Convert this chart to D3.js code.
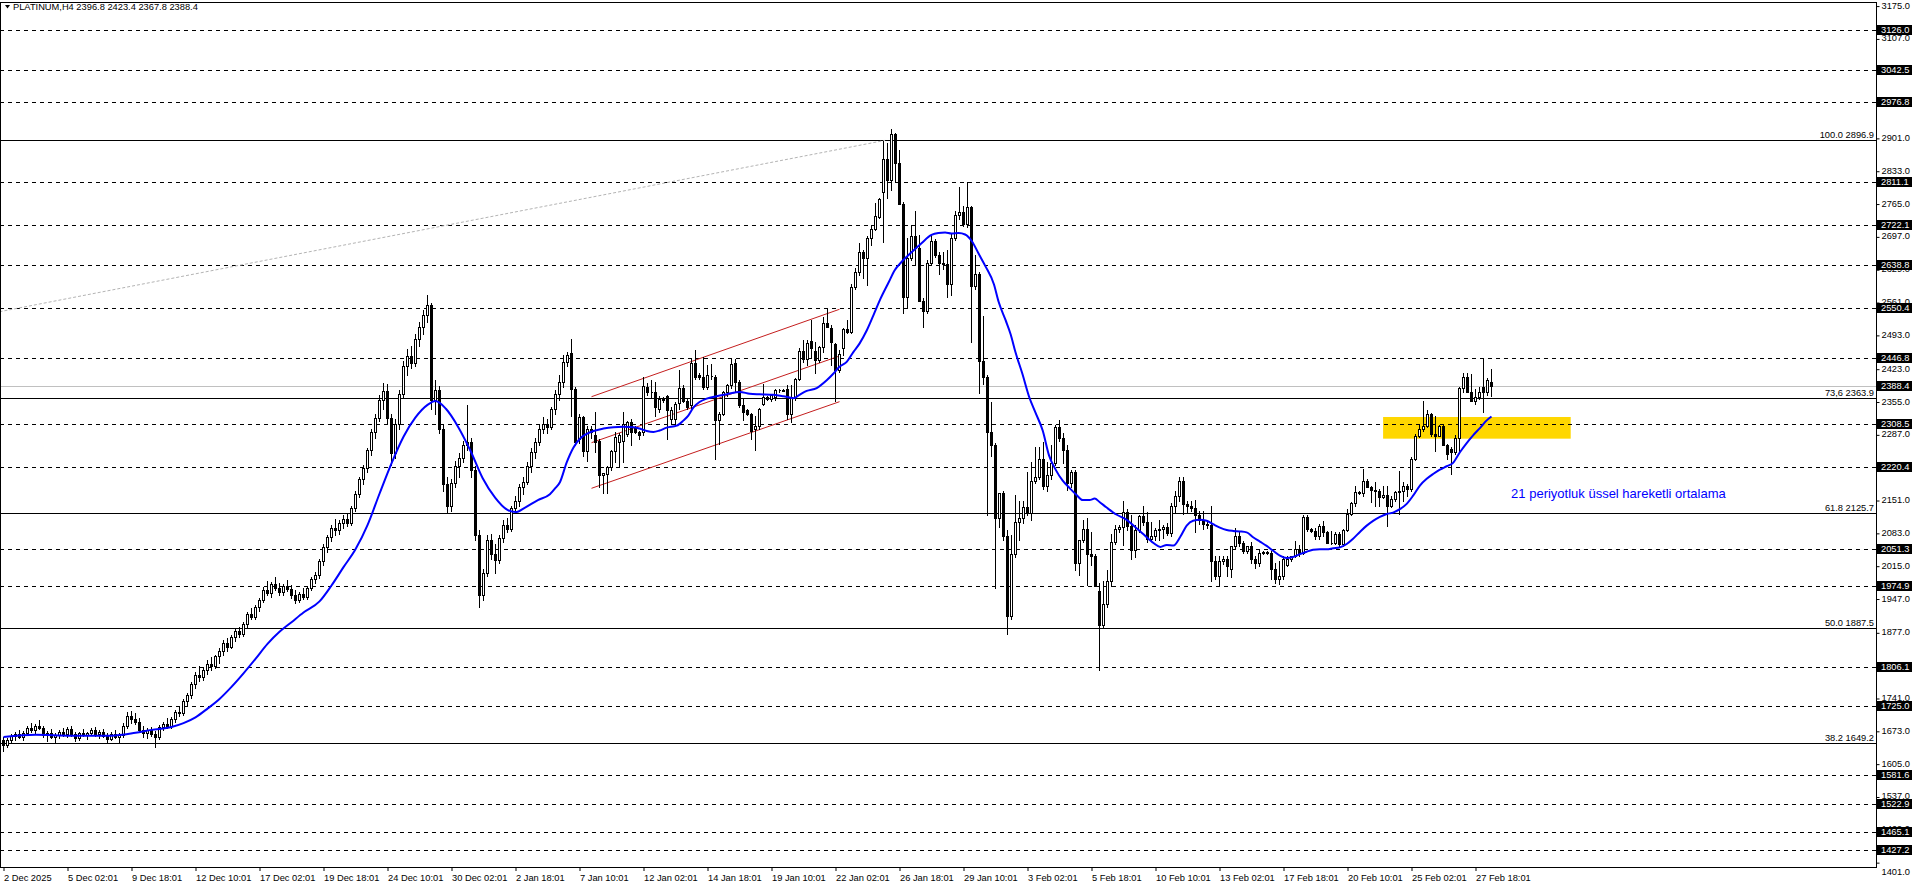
<!DOCTYPE html>
<html><head><meta charset="utf-8">
<script src="https://cdn.jsdelivr.net/npm/d3@7"></script>
<style>
html,body{margin:0;padding:0;background:#fff;overflow:hidden}
svg{display:block}
</style></head><body>
<svg id="chart" width="1916" height="888"></svg>
<script>
// ---------------- DATA ----------------
const symbol = "PLATINUM,H4";
const opens = [
1655,1645,1656,1663,1668,1662,1670,1680,1676,1685, 1680,1666,1670,1662,1666,1672,1668,1678,1667,1660,
1670,1665,1669,1676,1668,1672,1664,1658,1668,1662, 1666,1685,1705,1698,1692,1676,1670,1675,1668,1662,
1682,1688,1684,1698,1714,1710,1735,1748,1770,1790, 1785,1800,1812,1808,1828,1840,1856,1848,1868,1880,
1874,1895,1915,1910,1930,1945,1966,1960,1978,1970, 1962,1974,1968,1955,1945,1958,1952,1970,1988,1996,
2025,2054,2075,2095,2090,2105,2112,2104,2135,2165, 2195,2218,2255,2292,2322,2360,2378,2322,2250,2310,
2372,2430,2450,2435,2485,2510,2535,2555,2360,2380, 2300,2185,2140,2188,2222,2240,2265,2272,2215,2080,
1955,2000,2070,2040,2028,2074,2100,2092,2135,2150, 2180,2190,2222,2252,2272,2300,2310,2304,2340,2372,
2396,2438,2457,2383,2279,2324,2254,2300,2286,2275, 2203,2206,2220,2254,2272,2275,2289,2313,2303,2293,
2292,2386,2376,2376,2341,2362,2367,2320,2320,2354, 2384,2358,2348,2435,2410,2407,2386,2409,2407,2317,
2331,2376,2390,2436,2396,2348,2338,2331,2300,2306, 2351,2365,2362,2365,2379,2379,2382,2331,2365,2403,
2461,2445,2481,2461,2441,2469,2519,2509,2475,2421, 2466,2507,2500,2594,2625,2666,2653,2694,2713,2739,
2791,2858,2815,2910,2850,2766,2573,2654,2698,2673, 2565,2543,2643,2688,2660,2643,2640,2599,2695,2743,
2748,2724,2758,2595,2620,2440,2407,2292,2266,2114, 2166,2078,1911,2040,2107,2114,2137,2125,2192,2200,
2236,2181,2203,2229,2303,2280,2255,2188,2210,2022, 2070,2092,2040,2037,1963,1893,1937,1985,2066,2092,
2096,2128,2098,2048,2090,2118,2106,2072,2078,2089, 2092,2096,2083,2140,2160,2192,2144,2140,2136,2120,
2110,2102,2100,2026,1995,2026,2030,2010,2056,2078, 2064,2047,2056,2030,2022,2043,2044,2043,2009,1988,
1995,2018,2030,2036,2051,2043,2116,2092,2087,2078, 2099,2086,2064,2062,2081,2061,2090,2123,2145,2168,
2167,2192,2178,2173,2170,2158,2163,2140,2154,2168, 2171,2182,2174,2237,2284,2299,2305,2331,2289,2285,
2305,2266,2258,2251,2280,2384,2406,2376,2358,2365, 2386,2376,2396.8];
const highs = [
1662,1660,1668,1672,1676,1674,1684,1690,1688,1696, 1684,1674,1678,1670,1676,1680,1682,1684,1672,1672,
1678,1672,1680,1682,1676,1678,1670,1672,1676,1670, 1690,1712,1716,1710,1700,1684,1680,1682,1674,1686,
1692,1700,1702,1718,1726,1740,1752,1775,1796,1808, 1805,1820,1826,1832,1845,1862,1866,1872,1884,1890,
1900,1920,1928,1934,1950,1972,1985,1982,1992,1980, 1978,1986,1976,1965,1962,1970,1975,1992,2002,2030,
2060,2080,2100,2112,2110,2120,2125,2140,2170,2200, 2225,2260,2300,2330,2370,2395,2392,2330,2320,2380,
2440,2465,2470,2495,2520,2545,2576,2560,2400,2388, 2310,2200,2195,2232,2250,2275,2348,2280,2222,2090,
2010,2080,2082,2060,2080,2110,2115,2140,2160,2185, 2200,2230,2260,2280,2310,2325,2320,2345,2380,2410,
2452,2458,2486,2386,2330,2327,2305,2306,2334,2278, 2209,2222,2256,2292,2290,2334,2316,2319,2306,2295,
2407,2395,2400,2396,2368,2366,2370,2345,2355,2421, 2390,2362,2445,2462,2415,2448,2431,2433,2410,2334,
2378,2392,2445,2445,2400,2362,2340,2333,2327,2342, 2393,2368,2370,2382,2382,2381,2390,2390,2405,2466,
2483,2483,2525,2480,2470,2531,2549,2514,2478,2462, 2509,2525,2600,2632,2684,2670,2698,2722,2767,2777,
2896,2891,2920,2912,2876,2770,2695,2721,2750,2700, 2570,2650,2702,2693,2665,2665,2670,2706,2750,2800,
2760,2810,2760,2660,2625,2533,2410,2355,2270,2166, 2170,2090,2080,2162,2151,2151,2210,2230,2262,2262,
2273,2230,2266,2307,2318,2290,2266,2215,2215,2070, 2110,2115,2085,2040,1980,1985,2007,2081,2100,2100,
2150,2134,2122,2100,2122,2140,2128,2106,2094,2110, 2100,2105,2145,2170,2200,2199,2150,2150,2152,2130,
2130,2110,2140,2036,2036,2036,2036,2057,2095,2085, 2067,2057,2066,2036,2050,2047,2046,2047,2022,2026,
2036,2036,2036,2067,2058,2120,2120,2095,2095,2102, 2109,2088,2088,2085,2085,2092,2133,2147,2182,2171,
2216,2196,2182,2189,2175,2182,2182,2161,2171,2213, 2189,2185,2241,2289,2310,2358,2338,2333,2326,2308,
2310,2268,2262,2286,2386,2416,2416,2412,2382,2386, 2446,2405,2423.4];
const lows = [
1632,1640,1650,1655,1660,1656,1665,1672,1670,1678, 1662,1652,1660,1650,1660,1664,1662,1664,1652,1655,
1663,1658,1665,1664,1660,1662,1650,1654,1660,1648, 1662,1680,1690,1688,1672,1662,1660,1664,1640,1658,
1676,1680,1680,1692,1705,1706,1726,1742,1762,1778, 1780,1792,1800,1804,1815,1832,1840,1845,1860,1868,
1870,1890,1905,1906,1922,1940,1955,1952,1965,1955, 1956,1964,1950,1938,1940,1948,1948,1965,1980,1990,
2018,2045,2068,2080,2082,2095,2098,2100,2130,2158, 2185,2210,2245,2280,2315,2340,2310,2225,2240,2300,
2365,2410,2425,2430,2470,2495,2520,2340,2330,2290, 2170,2128,2130,2178,2200,2230,2255,2200,2070,1930,
1945,1995,2030,2000,2022,2065,2085,2088,2125,2140, 2165,2185,2210,2240,2265,2290,2290,2300,2330,2360,
2386,2430,2327,2265,2270,2244,2233,2280,2251,2178, 2166,2166,2215,2230,2223,2230,2285,2265,2290,2279,
2286,2370,2365,2327,2335,2355,2279,2310,2310,2341, 2355,2340,2341,2403,2403,2382,2382,2403,2237,2268,
2328,2368,2384,2375,2345,2317,2328,2279,2255,2300, 2348,2360,2358,2360,2376,2377,2320,2313,2360,2400,
2438,2431,2448,2416,2438,2459,2510,2431,2358,2417, 2452,2497,2497,2590,2618,2611,2597,2680,2711,2736,
2687,2777,2794,2810,2765,2540,2551,2650,2640,2565, 2510,2540,2640,2655,2621,2630,2573,2577,2690,2735,
2720,2718,2480,2590,2373,2392,2122,2244,1970,2096, 2070,1874,1905,2035,2070,2105,2122,2110,2188,2195,
2175,2170,2195,2225,2275,2229,2173,2180,2007,1996, 2065,1977,2018,1974,1800,1889,1930,1974,2060,2085,
2058,2090,2030,2033,2085,2100,2066,2068,2070,2070, 2074,2080,2078,2128,2150,2123,2125,2130,2085,2102,
2092,2095,1985,1988,1974,2020,1995,1993,2053,2057, 2043,2043,2022,2012,2016,2040,2040,1988,1981,1978,
1988,2016,2025,2035,2036,2040,2088,2085,2071,2071, 2078,2064,2060,2060,2057,2057,2088,2120,2140,2164,
2161,2178,2147,2140,2140,2157,2099,2137,2150,2123, 2150,2161,2170,2234,2282,2295,2303,2285,2254,2284,
2265,2237,2206,2248,2254,2376,2375,2358,2351,2362, 2334,2369,2367.8];
const closes = [
1645,1656,1663,1668,1662,1670,1680,1676,1685,1680, 1666,1670,1662,1666,1672,1668,1678,1667,1660,1670,
1665,1669,1676,1668,1672,1664,1658,1668,1662,1666, 1685,1705,1698,1692,1676,1670,1675,1668,1662,1682,
1688,1684,1698,1714,1710,1735,1748,1770,1790,1785, 1800,1812,1808,1828,1840,1856,1848,1868,1880,1874,
1895,1915,1910,1930,1945,1966,1960,1978,1970,1962, 1974,1968,1955,1945,1958,1952,1970,1988,1996,2025,
2054,2075,2095,2090,2105,2112,2104,2135,2165,2195, 2218,2255,2292,2322,2360,2378,2322,2250,2310,2372,
2430,2450,2435,2485,2510,2535,2555,2360,2380,2300, 2185,2140,2188,2222,2240,2265,2272,2215,2080,1955,
2000,2070,2040,2028,2074,2100,2092,2135,2150,2180, 2190,2222,2252,2272,2300,2310,2304,2340,2372,2396,
2438,2452,2383,2272,2324,2254,2300,2293,2272,2203, 2208,2220,2254,2282,2286,2310,2313,2293,2293,2286,
2388,2376,2375,2345,2362,2359,2338,2338,2351,2384, 2358,2345,2435,2407,2407,2386,2410,2408,2317,2331,
2376,2390,2434,2396,2348,2334,2331,2296,2306,2341, 2365,2362,2369,2380,2379,2378,2331,2365,2403,2461,
2445,2477,2466,2441,2469,2519,2511,2480,2421,2455, 2507,2500,2594,2625,2666,2653,2694,2713,2740,2775,
2858,2815,2910,2850,2766,2573,2654,2698,2673,2565, 2543,2643,2688,2660,2643,2640,2599,2695,2743,2748,
2724,2758,2595,2620,2440,2407,2292,2266,2114,2166, 2078,1911,2040,2107,2114,2137,2125,2192,2200,2236,
2181,2203,2229,2303,2280,2255,2188,2210,2022,2070, 2092,2040,2037,1974,1893,1937,1985,2066,2092,2096,
2128,2098,2048,2090,2118,2106,2072,2078,2089,2092, 2096,2083,2140,2160,2192,2144,2140,2136,2120,2110,
2102,2100,2026,1995,2026,2030,2016,2056,2078,2064, 2047,2056,2030,2022,2043,2044,2043,2009,1988,1995,
2030,2030,2036,2051,2043,2116,2092,2087,2078,2099, 2086,2064,2062,2081,2061,2090,2123,2145,2168,2167,
2192,2178,2173,2170,2158,2163,2140,2154,2168,2171, 2182,2174,2237,2284,2299,2305,2331,2289,2285,2305,
2266,2248,2251,2280,2384,2406,2376,2358,2365,2375, 2376,2400,2388.4];

// 21-period EMA: bar index and value
const emaBars = [0,8,17,27,33,37,42,45,48,51,54,57,60,63,66,69,72,75,79,82,85,88,91,94,97,100,103,106,108,110.6,113.7,116.8,119.8,122.9,125.9,128,130.5,133.6,136.6,138,139.1,140.8,142.5,144.1,145.8,147.5,150,152.5,155,157.5,159,160.8,162.5,164,165.8,168.3,170,171.2,172.5,174,175.8,178.3,180.8,184.1,186.6,189,192.5,195,197.5,199,200.8,203.3,205.8,207.5,209,210.8,212.5,214,215.8,217.5,219.2,221.3,222.8,224.5,227,229.5,232,233.7,235.4,237,238.8,240.4,242.1,243.8,245.5,247.6,248.8,250.5,251.8,253,254.7,256.4,258,259.8,261.4,263.1,264.8,266.5,268.2,269.8,271.5,272.8,274,275.7,278.2,280.8,282.4,285,287.5,289.2,290.8,292.5,294.2,295.8,297.4,299.1,300.8,302.4,304.1,305.8,307.4,309.1,310.8,312.4,314.1,315.8,317.4,319.1,320.8,322.4,324.1,325.8,327.4,329.1,330.8,332.4,334.1,335.8,337.4,339.1,340.8,342.4,344.1,345.8,347.4,349.1,350.8,352.4,354.1,355.8,357.4,359.1,360.8,362.4,364.1,365.8,367.4,369.1,370.8,372];
const emaValues = [1661,1666,1664,1664,1670,1676,1682,1690,1702,1720,1740,1765,1793,1823,1854,1879,1899,1919,1942,1975,2013,2050,2100,2165,2228,2283,2323,2349,2357,2341,2303,2253,2197,2157,2132,2127,2137,2152,2164,2177,2189,2230,2261,2279,2289,2295,2300,2303,2304,2303,2300,2295,2293,2296,2302,2306,2317,2327,2344,2355,2362,2367,2371,2376,2372,2371,2370,2367,2363,2370,2378,2384,2400,2414,2428,2438,2459,2476,2503,2535,2568,2603,2628,2645,2665,2684,2701,2705,2706,2704,2705,2702,2688,2662,2636,2599,2562,2525,2495,2458,2414,2366,2333,2296,2244,2214,2192,2177,2163,2152,2152,2155,2148,2137,2122,2111,2100,2081,2063,2055,2059,2058,2076,2099,2109,2111,2109,2102,2095,2090,2088,2087,2085,2075,2066,2057,2047,2037,2032,2034,2040,2045,2049,2050,2050,2052,2054,2061,2072,2086,2099,2109,2117,2123,2126,2133,2144,2161,2182,2196,2206,2215,2222,2229,2251,2270,2286,2301,2317,2325];

const timeLabels = ["2 Dec 2025","5 Dec 02:01","9 Dec 18:01","12 Dec 10:01","17 Dec 02:01","19 Dec 18:01","24 Dec 10:01","30 Dec 02:01","2 Jan 18:01","7 Jan 10:01","12 Jan 02:01","14 Jan 18:01","19 Jan 10:01","22 Jan 02:01","26 Jan 18:01","29 Jan 10:01","3 Feb 02:01","5 Feb 18:01","10 Feb 10:01","13 Feb 02:01","17 Feb 18:01","20 Feb 10:01","25 Feb 02:01","27 Feb 18:01"];
const barsPerTimeLabel = 16;
const priceTicks = [3175,3107,3039,2971,2901,2833,2765,2697,2629,2561,2493,2423,2355,2287,2219,2151,2083,2015,1947,1877,1809,1741,1673,1605,1537,1469,1401];
const levelPrices = [3126.0,3042.5,2976.8,2811.1,2722.1,2638.8,2550.4,2446.8,2308.5,2220.4,2051.3,1974.9,1806.1,1725.0,1581.6,1522.9,1465.1,1427.2];
const fibRatios = ["100.0","73,6","61.8","50.0","38.2"];
const fibPrices = [2896.9,2363.9,2125.7,1887.5,1649.2];
const fibTrendBars = [-1, 220.4];
const fibTrendPrices = [2542, 2896.9];
const channelBars = [147, 209];
const channelUpper = [2366.0, 2547.1];
const channelMiddle = [2270.8, 2450.3];
const channelLower = [2176.3, 2355.7];
const zoneBars = [344.9, 391.8];
const zonePrices = [2279.1, 2324.0];
const priceDomain = [1392, 3181.4];
const annotationText = "21 periyotluk üssel hareketli ortalama";
const annotationBar = 376.9, annotationPrice = 2165;

// ---------------- DRAW ----------------
const FONT = "'Liberation Sans', Arial, sans-serif";
const svg = d3.select("#chart");
const X0 = 0, X1 = 1876, Y0 = 3, Y1 = 867;
const n = closes.length;
const x = d3.scaleLinear().domain([0, n - 1]).range([3.5, 3.5 + 4 * (n - 1)]);
const y = d3.scaleLinear().domain(priceDomain).range([Y1, Y0]);
const py = p => Math.round(y(p)) + 0.5;

svg.append("rect").attr("width", 1916).attr("height", 888).attr("fill", "#fff");
svg.append("defs").append("clipPath").attr("id", "clip")
  .append("rect").attr("x", X0).attr("y", Y0).attr("width", X1 - X0).attr("height", Y1 - Y0);
const plot = svg.append("g").attr("clip-path", "url(#clip)");

// yellow zone
plot.append("rect")
  .attr("x", x(zoneBars[0])).attr("width", x(zoneBars[1]) - x(zoneBars[0]))
  .attr("y", y(zonePrices[1])).attr("height", y(zonePrices[0]) - y(zonePrices[1]))
  .attr("fill", "#ffd700");

// dashed horizontal levels
plot.selectAll("line.lvl").data(levelPrices).join("line").attr("class", "lvl")
  .attr("x1", X0).attr("x2", X1).attr("y1", py).attr("y2", py)
  .attr("stroke", "#000").attr("stroke-dasharray", "4,4").attr("shape-rendering", "crispEdges");

// last price line
plot.append("line").attr("x1", X0).attr("x2", X1)
  .attr("y1", py(closes[n - 1])).attr("y2", py(closes[n - 1]))
  .attr("stroke", "#c0c0c0").attr("shape-rendering", "crispEdges");

// fibonacci levels
plot.selectAll("line.fib").data(fibPrices).join("line").attr("class", "fib")
  .attr("x1", X0).attr("x2", X1).attr("y1", py).attr("y2", py)
  .attr("stroke", "#000").attr("shape-rendering", "crispEdges");

// fibonacci trend line (dotted)
plot.append("line")
  .attr("x1", x(fibTrendBars[0])).attr("y1", y(fibTrendPrices[0]))
  .attr("x2", x(fibTrendBars[1])).attr("y2", y(fibTrendPrices[1]))
  .attr("stroke", "#b4b4b4").attr("stroke-dasharray", "3,2");

// red channel
[channelUpper, channelMiddle, channelLower].forEach(c => {
  plot.append("line")
    .attr("x1", x(channelBars[0])).attr("y1", y(c[0]))
    .attr("x2", x(channelBars[1])).attr("y2", y(c[1]))
    .attr("stroke", "#c41e1e").attr("stroke-width", 1);
});

// candles
const bars = closes.map((c, i) => ({ i, o: opens[i], h: highs[i], l: lows[i], c }));
plot.append("g").selectAll("line").data(bars).join("line")
  .attr("x1", d => x(d.i)).attr("x2", d => x(d.i))
  .attr("y1", d => Math.round(y(d.h))).attr("y2", d => Math.round(y(d.l)) + 1)
  .attr("stroke", "#000").attr("shape-rendering", "crispEdges");
plot.append("g").selectAll("path").data(bars).join("path")
  .attr("d", d => {
    const t = py(Math.max(d.o, d.c)), b = py(Math.min(d.o, d.c));
    const l = x(d.i) - 1, r = x(d.i) + 1;
    return `M${l},${t}H${r}V${b}H${l}Z`;
  })
  .attr("fill", d => d.c >= d.o ? "#fff" : "#000")
  .attr("stroke", "#000").attr("shape-rendering", "crispEdges");

// EMA
const emaPts = emaBars.map((b, k) => ({ b, v: emaValues[k] }));
plot.append("path").datum(emaPts)
  .attr("d", d3.line().x(d => x(d.b)).y(d => y(d.v)).curve(d3.curveMonotoneX))
  .attr("fill", "none").attr("stroke", "#0000ff").attr("stroke-width", 2);

// annotation
svg.append("text").attr("x", x(annotationBar)).attr("y", y(annotationPrice)).attr("dy", "0.35em")
  .attr("font-family", FONT).attr("font-size", 13).attr("fill", "#0000ff").text(annotationText);

// fib labels
svg.selectAll("text.fibl").data(fibPrices).join("text").attr("class", "fibl")
  .attr("x", X1 - 2).attr("y", d => py(d) - 3).attr("text-anchor", "end")
  .attr("font-family", FONT).attr("font-size", 9.3).attr("fill", "#000")
  .text((d, k) => `${fibRatios[k]} ${d.toFixed(1)}`);

// frame
svg.append("line").attr("x1", X1 + 0.5).attr("x2", X1 + 0.5).attr("y1", 2).attr("y2", Y1 + 1).attr("stroke", "#000");
svg.append("line").attr("x1", 0).attr("x2", X1 + 1).attr("y1", Y1 + 0.5).attr("y2", Y1 + 0.5).attr("stroke", "#000");
svg.append("line").attr("x1", 0).attr("x2", X1 + 1).attr("y1", 2.5).attr("y2", 2.5).attr("stroke", "#000");
svg.append("line").attr("x1", 0.5).attr("x2", 0.5).attr("y1", 2).attr("y2", Y1 + 1).attr("stroke", "#000");

// price axis
const pAxis = svg.append("g").attr("transform", `translate(${X1 + 0.5},0)`)
  .call(d3.axisRight(y).tickValues(priceTicks).tickSize(3).tickPadding(2).tickFormat(d => d.toFixed(1)));
pAxis.select(".domain").remove();
pAxis.attr("font-family", null).attr("font-size", null);
pAxis.selectAll("line").attr("stroke", "#000");
pAxis.selectAll("text").attr("font-family", FONT).attr("font-size", 9.3).attr("fill", "#000")
  .attr("y", d => y(d) > Y1 - 8 ? 9 : -1);

// time axis
const timeTicks = timeLabels.map((t, k) => k * barsPerTimeLabel);
const tAxis = svg.append("g").attr("transform", `translate(0,${Y1})`)
  .call(d3.axisBottom(x).tickValues(timeTicks).tickSize(4).tickPadding(3).tickFormat((d, k) => timeLabels[k]));
tAxis.select(".domain").remove();
tAxis.attr("font-family", null).attr("font-size", null);
tAxis.selectAll("line").attr("stroke", "#000");
tAxis.selectAll("text").attr("font-family", FONT).attr("font-size", 9.3).attr("fill", "#000")
  .attr("text-anchor", "start").attr("x", 0);

// level label boxes on the price axis
const boxData = levelPrices.concat([closes[n - 1]]);
const boxes = svg.append("g").selectAll("g").data(boxData).join("g")
  .attr("transform", d => `translate(${X1 + 1},${Math.round(y(d))})`);
boxes.append("rect").attr("x", 0).attr("y", -5).attr("width", 35).attr("height", 10).attr("fill", "#000");
boxes.append("text").attr("x", 4).attr("y", 0).attr("dy", "0.35em")
  .attr("font-family", FONT).attr("font-size", 9.3).attr("fill", "#fff").text(d => d.toFixed(1));

// title
svg.append("path").attr("d", "M5,5H10L7.5,8.5Z").attr("fill", "#000");
svg.append("text").attr("x", 13).attr("y", 10)
  .attr("font-family", FONT).attr("font-size", 9.3).attr("fill", "#000")
  .text(`${symbol}  ${opens[n - 1].toFixed(1)} ${highs[n - 1].toFixed(1)} ${lows[n - 1].toFixed(1)} ${closes[n - 1].toFixed(1)}`);
</script>
</body></html>
